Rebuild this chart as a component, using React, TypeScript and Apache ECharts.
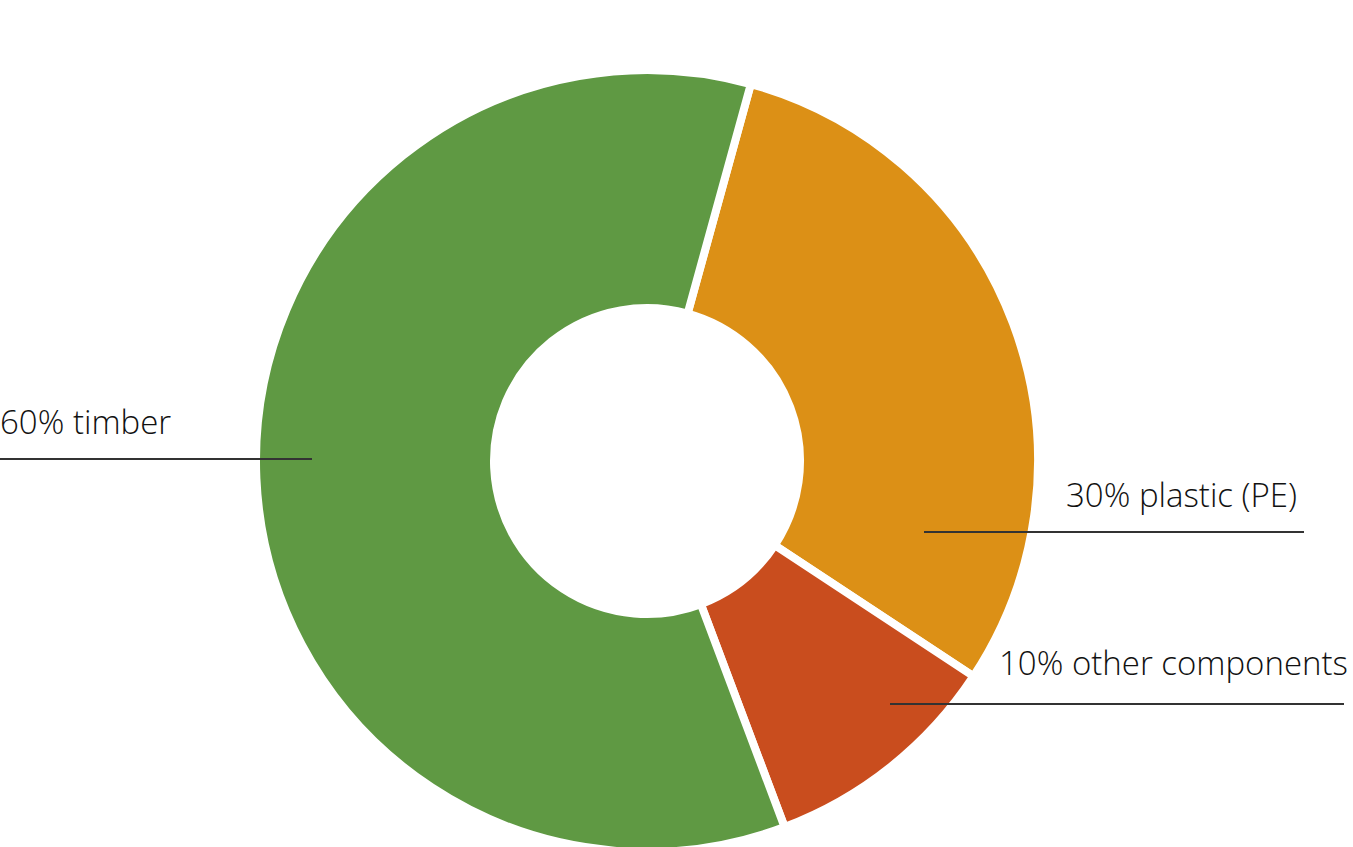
import React, { useEffect, useRef } from "react";
import * as echarts from "echarts";

const categories = ["plastic (PE)", "other components", "timber"];
const shares = [30, 10, 60];
const colors = ["#dc9016", "#c94d1e", "#5f9943"];

// label layout (pixel positions of label text and leader lines)
const labelPos = [
  { x: 1066, y: 494, line: [924, 532, 1304] },
  { x: 999, y: 662, line: [890, 704, 1344] },
  { x: 0, y: 421, line: [0, 459, 312] },
];

export default function App() {
  const ref = useRef<HTMLDivElement>(null);
  useEffect(() => {
    if (!ref.current) return;
    const chart = echarts.init(ref.current, undefined, { renderer: "svg" });
    chart.setOption({
      animation: false,
      backgroundColor: "#ffffff",
      series: [
        {
          type: "pie",
          center: [647, 461],
          radius: [153, 391],
          startAngle: 74.6,
          clockwise: true,
          silent: true,
          emphasis: { disabled: true },
          itemStyle: { borderColor: "#ffffff", borderWidth: 8 },
          data: categories.map((c, i) => ({
            name: c,
            value: shares[i],
            itemStyle: { color: colors[i] },
          })),
          label: {
            show: true,
            formatter: (p: any) => `${p.value}% ${p.name}`,
            color: "#111111",
            fontFamily: "Open Sans",
            fontWeight: 300,
            fontSize: 33,
          },
          labelLine: { show: false },
          labelLayout: (params: any) => {
            const p = labelPos[params.dataIndex];
            return {
              x: p.x,
              y: p.y,
              align: "left",
              verticalAlign: "middle",
            };
          },
        },
      ],
      graphic: labelPos.map((p) => ({
        type: "line",
        z: 100,
        silent: true,
        shape: { x1: p.line[0], y1: p.line[1], x2: p.line[2], y2: p.line[1] },
        style: { stroke: "#333333", lineWidth: 2 },
      })),
    });
    return () => chart.dispose();
  }, []);
  return (
    <div
      ref={ref}
      style={{ position: "fixed", left: 0, top: 0, width: 1353, height: 847 }}
    />
  );
}
